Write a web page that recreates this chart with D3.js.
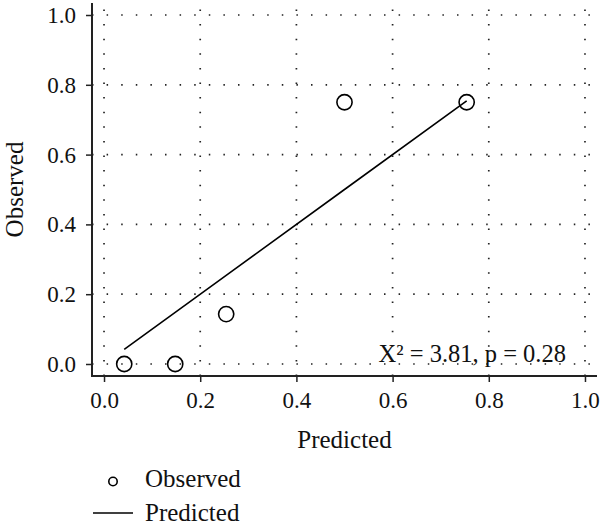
<!DOCTYPE html>
<html>
<head>
<meta charset="utf-8">
<script src="https://cdn.jsdelivr.net/npm/d3@7"></script>
<style>
  html, body { margin: 0; padding: 0; background: #fff; }
  svg { display: block; }
  text { font-family: "Liberation Serif", "Times New Roman", serif; fill: #111; }
</style>
</head>
<body>
<svg id="chart" width="600" height="528"></svg>
<script>
// ---- data ----
const predicted = [0.042, 0.148, 0.254, 0.500, 0.754];
const observed  = [0.0, 0.0, 0.143, 0.750, 0.750];
const xTicks = [0.0, 0.2, 0.4, 0.6, 0.8, 1.0];
const yTicks = [0.0, 0.2, 0.4, 0.6, 0.8, 1.0];
const xTitle = "Predicted";
const yTitle = "Observed";
const annotation = "X\u00B2 = 3.81, p = 0.28";
const legendLabels = ["Observed", "Predicted"];

// ---- layout ----
const svg = d3.select("#chart");
const pL = 92, pR = 597, pT = 3, pB = 376;
const serif = "'Liberation Serif', 'Times New Roman', serif";

const x = d3.scaleLinear().domain([-0.025, 1.025]).range([pL, pR]);
const y = d3.scaleLinear().domain([-0.0344, 1.0344]).range([pB, pT]);

// grid (dotted)
const grid = svg.append("g").attr("stroke", "#222").attr("stroke-width", 1.7)
  .attr("stroke-dasharray", "1.5,13.1").attr("fill", "none");
grid.selectAll("line.v").data(xTicks).join("line").attr("class", "v")
  .attr("x1", d => x(d)).attr("x2", d => x(d))
  .attr("y1", pB).attr("y2", pT);
grid.selectAll("line.h").data(yTicks).join("line").attr("class", "h")
  .attr("x1", pL).attr("x2", pR)
  .attr("y1", d => y(d)).attr("y2", d => y(d));

// axes
const fmt = d3.format(".1f");
const xAxis = svg.append("g").attr("transform", `translate(0,${pB})`)
  .call(d3.axisBottom(x).tickValues(xTicks).tickFormat(fmt).tickSize(6).tickPadding(8));
const yAxis = svg.append("g").attr("transform", `translate(${pL},0)`)
  .call(d3.axisLeft(y).tickValues(yTicks).tickFormat(fmt).tickSize(6).tickPadding(10));
[xAxis, yAxis].forEach(a => {
  a.attr("font-family", serif).attr("font-size", 23);
  a.select(".domain").remove();
  a.selectAll(".tick line").attr("stroke", "#222").attr("stroke-width", 1.5);
  a.selectAll(".tick text").attr("fill", "#111")
    .style("font-family", serif).style("font-size", "23px");
});
xAxis.selectAll(".tick text").attr("dy", null).attr("y", 32);
yAxis.selectAll(".tick text").attr("dy", "0.33em");

// L-shaped axis lines
svg.append("path")
  .attr("d", `M${pL},${pT}V${pB}H${pR}`)
  .attr("fill", "none").attr("stroke", "#222").attr("stroke-width", 2);

// predicted line
const line = d3.line().x(d => x(d)).y(d => y(d));
svg.append("path").datum(predicted)
  .attr("d", line)
  .attr("fill", "none").attr("stroke", "#000").attr("stroke-width", 1.6);

// observed points
svg.append("g").selectAll("circle").data(predicted.map((p, i) => [p, observed[i]]))
  .join("circle")
  .attr("cx", d => x(d[0])).attr("cy", d => y(d[1])).attr("r", 7.6)
  .attr("fill", "none").attr("stroke", "#000").attr("stroke-width", 1.6);

// annotation
svg.append("text").attr("x", 566).attr("y", 362).attr("text-anchor", "end")
  .attr("font-size", 24.5).text(annotation);

// axis titles
svg.append("text").attr("x", (x(0) + x(1)) / 2).attr("y", 448)
  .attr("text-anchor", "middle").attr("font-size", 25).text(xTitle);
svg.append("text")
  .attr("transform", `translate(23,${(y(0) + y(1)) / 2}) rotate(-90)`)
  .attr("text-anchor", "middle").attr("font-size", 25).text(yTitle);

// legend
const lg = svg.append("g");
lg.append("circle").attr("cx", 113).attr("cy", 481.5).attr("r", 4.2)
  .attr("fill", "none").attr("stroke", "#000").attr("stroke-width", 1.6);
lg.append("text").attr("x", 145).attr("y", 487).attr("font-size", 25).text(legendLabels[0]);
lg.append("line").attr("x1", 93).attr("x2", 133).attr("y1", 513).attr("y2", 513)
  .attr("stroke", "#000").attr("stroke-width", 1.6);
lg.append("text").attr("x", 145).attr("y", 521).attr("font-size", 25).text(legendLabels[1]);
</script>
</body>
</html>
